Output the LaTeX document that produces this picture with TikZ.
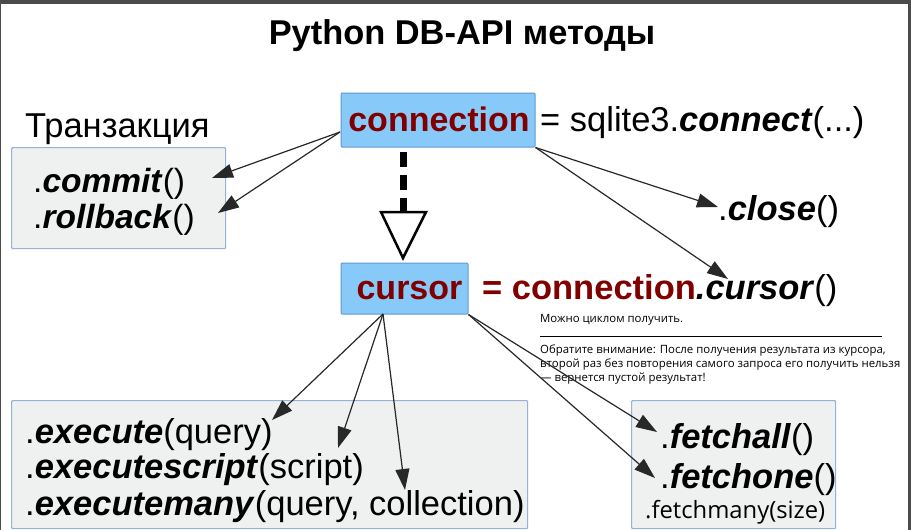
\documentclass[tikz,border=0pt]{standalone}
\usepackage{fontspec}
\setmainfont{Liberation Sans}
\newfontfamily\notefont{Open Sans}
\usetikzlibrary{arrows.meta}
\definecolor{dred}{RGB}{128,0,0}
\definecolor{bluefill}{RGB}{135,202,250}
\definecolor{blueline}{RGB}{100,150,205}
\definecolor{greyfill}{RGB}{239,240,240}
\definecolor{greyline}{RGB}{150,178,215}
\definecolor{framec}{RGB}{75,75,75}
\definecolor{linec}{RGB}{40,40,40}
\newcommand{\bi}[1]{\textbf{\textit{#1}}}
\begin{document}
\begin{tikzpicture}[x=1pt,y=-1pt,
  big/.style={font=\fontsize{34.5}{36}\selectfont, inner sep=0pt, anchor=base west},
  mid/.style={font=\fontsize{33.5}{36}\selectfont, inner sep=0pt, anchor=base west},
  bluebox/.style={draw=blueline, fill=bluefill, line width=1pt, rounded corners=1pt, inner sep=0pt},
  greybox/.style={draw=greyline, fill=greyfill, line width=1.2pt, rounded corners=1pt, inner sep=0pt, anchor=north west},
  boxtext/.style={font=\fontsize{34}{36}\selectfont\bfseries, text=dred, inner sep=0pt, anchor=base},
  arr/.style={draw=linec, line width=1.2pt, -{Triangle[length=21pt,width=14pt]}},
  note/.style={font=\notefont\fontsize{11.4}{13}\selectfont, inner sep=0pt, anchor=base west}]
\useasboundingbox (0,0) rectangle (911,530);
\fill[white] (0,0) rectangle (911,530);
\fill[framec] (0,0) rectangle (911,4);
\fill[framec] (908,0) rectangle (911,530);
\fill[framec] (0,0) rectangle (1,530);

% title
\node[font=\fontsize{34.4}{36}\selectfont\bfseries, inner sep=0pt, anchor=base] (title) at (462,45) {Python DB-API методы};

% connection
\node[bluebox, minimum width=194pt, minimum height=54pt] (conn) at (438,120) {};
\node[boxtext] (connT) at (439,131) {connection};
\node[big] (connexpr) at (540,131) {= sqlite3.\bi{connect}(...)};

% transaction
\node[big] (trtitle) at (25,137) {Транзакция};
\node[greybox, minimum width=214pt, minimum height=101pt] (trbox) at (11,147) {};
\node[mid] (commit) at (33,192) {.\bi{commit}()};
\node[mid] (rollback) at (33,228) {.\bi{rollback}()};

% close
\node[big] (close) at (718,220) {.\bi{close}()};

% cursor
\node[bluebox, minimum width=127pt, minimum height=51pt] (curs) at (404.5,288.5) {};
\node[boxtext] (cursT) at (409.5,299) {cursor};
\node[big] (cursexpr) at (482,299) {\textcolor{dred}{\textbf{= connection}}\bi{.cursor}()};

% note
\node[note] (note1) at (540,322) {Можно циклом получить.};
\coordinate (ruleL) at (540,336);
\coordinate (ruleR) at (882,336);
\draw[line width=0.8pt] (ruleL) -- (ruleR);
\node[note] (note2) at (540,353) {Обратите внимание: После получения результата из курсора,};
\node[note] (note3) at (540,367) {второй раз без повторения самого запроса его получить нельзя};
\node[note] (note4) at (540,381) {— вернется пустой результат!};

% execute box
\node[greybox, minimum width=516pt, minimum height=128pt] (exbox) at (11,400) {};
\node[big] (ex1) at (25,443) {.\bi{execute}(query)};
\node[big] (ex2) at (25,478) {.\bi{executescript}(script)};
\node[big] (ex3) at (25,515) {.\bi{executemany}(query, collection)};

% fetch box
\node[greybox, minimum width=204pt, minimum height=128pt] (fbox) at (631,400) {};
\node[big] (f1) at (660,448) {.\bi{fetchall}()};
\node[big] (f2) at (660,488) {.\bi{fetchone}()};
\node[font=\notefont\fontsize{23.8}{26}\selectfont, inner sep=0pt, anchor=base west] (f3) at (645,518) {.fetchmany(size)};

% connectors
\coordinate (cL) at (340,132);
\coordinate (tCommit) at (212,178);
\coordinate (tRoll) at (218,213);
\draw[arr] (cL) -- (tCommit);
\draw[arr] (cL) -- (tRoll);

\coordinate (tClose) at (718,207);
\coordinate (tCurs) at (728,279);
\draw[arr] (conn.south east) -- (tClose);
\draw[arr] (conn.south east) -- (tCurs);

\coordinate (dTop) at (403,152);
\coordinate (dBot) at (403,212);
\draw[line width=7pt, dash pattern=on 15pt off 8pt] (dTop) -- (dBot);
\coordinate (triL) at (381,212);
\coordinate (triR) at (426,212);
\coordinate (triA) at (403,258);
\draw[line width=2.5pt, fill=white, line join=miter] (triL) -- (triR) -- (triA) -- cycle;

\coordinate (cB) at (383,314);
\coordinate (tEx1) at (272,420);
\coordinate (tEx2) at (338,448);
\coordinate (tEx3) at (405,490);
\draw[arr] (cB) -- (tEx1);
\draw[arr] (cB) -- (tEx2);
\draw[arr] (cB) -- (tEx3);

\coordinate (tF1) at (657,432);
\coordinate (tF2) at (655,478);
\draw[arr] (curs.south east) -- (tF1);
\draw[arr] (curs.south east) -- (tF2);
\end{tikzpicture}
\end{document}
